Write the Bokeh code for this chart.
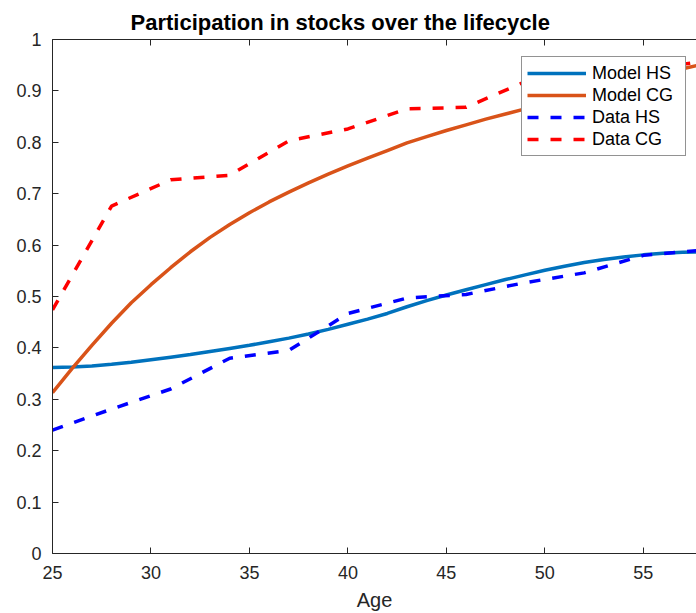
from bokeh.plotting import figure
from bokeh.models import Legend, LegendItem, LinearAxis, FixedTicker, Range1d
from bokeh.embed import file_html
from bokeh.resources import INLINE

# ---- data ----
ages_model = list(range(25, 59))
model_hs = [0.362, 0.363, 0.365, 0.368, 0.372, 0.377, 0.382, 0.387, 0.393, 0.399,
            0.405, 0.412, 0.419, 0.427, 0.436, 0.446, 0.456, 0.467, 0.480, 0.492,
            0.503, 0.513, 0.523, 0.533, 0.542, 0.551, 0.559, 0.566, 0.572, 0.577,
            0.581, 0.584, 0.586, 0.587]
model_cg = [0.313, 0.360, 0.405, 0.448, 0.488, 0.523, 0.556, 0.587, 0.615, 0.640,
            0.663, 0.684, 0.703, 0.721, 0.738, 0.754, 0.769, 0.784, 0.799, 0.811,
            0.823, 0.834, 0.845, 0.855, 0.865, 0.875, 0.885, 0.895, 0.905, 0.914,
            0.923, 0.933, 0.943, 0.952]
ages_data = [25, 28, 31, 34, 37, 40, 43, 46, 49, 52, 55, 58]
data_hs = [0.240, 0.281, 0.320, 0.380, 0.395, 0.467, 0.497, 0.504, 0.527, 0.546, 0.580, 0.590]
data_cg = [0.474, 0.676, 0.727, 0.736, 0.803, 0.826, 0.865, 0.868, 0.918, 0.930, 0.942, 0.957]

series_labels = ["Model HS", "Model CG", "Data HS", "Data CG"]
x_ticks = [25, 30, 35, 40, 45, 50, 55]
x_tick_labels = ["25", "30", "35", "40", "45", "50", "55"]
y_ticks = [0, 0.1, 0.2, 0.3, 0.4, 0.5, 0.6, 0.7, 0.8, 0.9, 1.0]
y_tick_labels = ["0", "0.1", "0.2", "0.3", "0.4", "0.5", "0.6", "0.7", "0.8", "0.9", "1"]
title_text = "Participation in stocks over the lifecycle"
x_label = "Age"

FONT = "Liberation Sans"
AX = "#262626"

p = figure(width=696, height=613, output_backend="svg", toolbar_location=None,
           x_range=Range1d(25, 57.7), y_range=Range1d(0, 1),
           min_border_left=52, min_border_right=0, min_border_top=39, min_border_bottom=59,
           title=title_text)
p.outline_line_color = None
p.grid.visible = False
p.background_fill_color = "white"

p.title.align = "left"
p.title.offset = 78
p.title.text_font = FONT
p.title.text_font_size = "22px"
p.title.text_font_style = "bold"
p.title.text_color = "#000000"
p.title.standoff = 9

for ax, ticks, labels in ((p.xaxis[0], x_ticks, x_tick_labels), (p.yaxis[0], y_ticks, y_tick_labels)):
    ax.ticker = FixedTicker(ticks=ticks)
    ax.major_label_overrides = {t: s for t, s in zip(ticks, labels)}
    ax.major_tick_in = 6
    ax.major_tick_out = 0
    ax.major_tick_line_color = AX
    ax.minor_tick_line_color = None
    ax.axis_line_color = AX
    ax.major_label_text_font = FONT
    ax.major_label_text_font_size = "18px"
    ax.major_label_text_color = AX

p.xaxis[0].major_label_standoff = 12
p.yaxis[0].major_label_standoff = 11

p.xaxis[0].axis_label = x_label
p.xaxis[0].axis_label_text_font = FONT
p.xaxis[0].axis_label_text_font_size = "20px"
p.xaxis[0].axis_label_text_font_style = "normal"
p.xaxis[0].axis_label_text_color = AX
p.xaxis[0].axis_label_standoff = 7

top = LinearAxis(ticker=FixedTicker(ticks=x_ticks), major_label_text_font_size="1px",
                 major_label_text_color=None, major_label_standoff=0,
                 major_tick_in=6, major_tick_out=0,
                 minor_tick_line_color=None, axis_line_color=AX, major_tick_line_color=AX)
p.add_layout(top, "above")

r1 = p.line(ages_model, model_hs, line_color="#0072BD", line_width=3.5)
r2 = p.line(ages_model, model_cg, line_color="#D95319", line_width=3.5)
r3 = p.line(ages_data, data_hs, line_color="#0000FF", line_width=3.5, line_dash="11 12")
r4 = p.line(ages_data, data_cg, line_color="#FF0000", line_width=3.5, line_dash="11 12")

legend = Legend(items=[LegendItem(label=l, renderers=[r]) for l, r in zip(series_labels, [r1, r2, r3, r4])],
                location=(469, 397), margin=0, padding=5, spacing=0,
                label_height=22, glyph_height=22, glyph_width=59, label_standoff=6, label_width=88,
                label_text_font=FONT, label_text_font_size="18px", label_text_color="#000000",
                border_line_color=AX, border_line_width=1,
                background_fill_color="white", background_fill_alpha=1.0)
p.add_layout(legend)

open("out.html", "w").write(file_html(p, INLINE))
